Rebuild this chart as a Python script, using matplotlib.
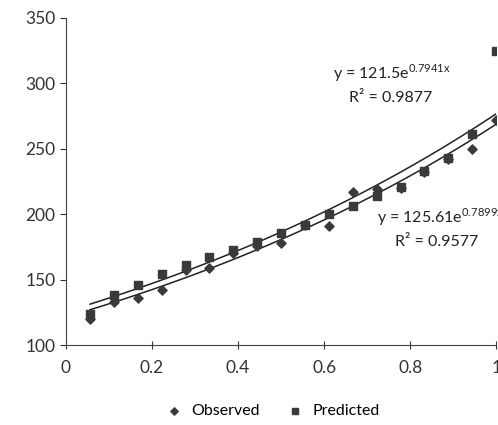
import numpy as np
import matplotlib
matplotlib.use('Agg')
import matplotlib.pyplot as plt

plt.rcParams['font.family'] = ['Lato', 'DejaVu Sans']
plt.rcParams['mathtext.fontset'] = 'custom'
plt.rcParams['mathtext.rm'] = 'Lato'

# x positions: 18 steps from 1/18 to 1
x = [0.056, 0.111, 0.167, 0.222, 0.278, 0.333, 0.389, 0.444, 0.5,
     0.556, 0.611, 0.667, 0.722, 0.778, 0.833, 0.889, 0.944, 1.0]
observed = [120, 133, 136, 142, 157, 159, 170, 176, 178,
            192, 191, 217, 219, 220, 232, 242, 250, 272]
predicted = [124, 138, 146, 154, 161, 167, 173, 179, 186,
             192, 200, 206, 214, 221, 233, 243, 261, 325]

# trendline parameters as printed on the chart
obs_a, obs_b, obs_r2 = 125.61, 0.7899, 0.9577
pred_a, pred_b, pred_r2 = 121.5, 0.7941, 0.9877

fig = plt.figure(figsize=(4.98, 4.25), dpi=100)
ax = fig.add_axes([0.1325, 0.188, 0.864, 0.77])

mk = '#3a3a3a'
ax.scatter(x, observed, marker='D', s=22, color=mk, label='Observed', zorder=3)
ax.scatter(x, predicted, marker='s', s=26, color=mk, label='Predicted', zorder=3)

xs = np.linspace(x[0], x[-1], 100)
ax.plot(xs, obs_a * np.exp(obs_b * xs), color='#222222', lw=1.1, zorder=2)
ax.plot(xs, pred_a * np.exp(pred_b * xs), color='#222222', lw=1.1, zorder=2)

ax.set_xlim(0, 1)
ax.set_ylim(100, 350)
ax.set_xticks([0, 0.2, 0.4, 0.6, 0.8, 1])
ax.set_xticklabels(['0', '0.2', '0.4', '0.6', '0.8', '1'])
ax.set_yticks([100, 150, 200, 250, 300, 350])
for s in ['top', 'right']:
    ax.spines[s].set_visible(False)
for s in ['left', 'bottom']:
    ax.spines[s].set_color('#444444')
ax.tick_params(axis='y', direction='out', length=4, labelsize=12.5, colors='#333333')
ax.tick_params(axis='x', direction='inout', length=6, labelsize=12.5, colors='#333333', pad=8)

txt = dict(fontsize=11.5, ha='center', va='center', color='#222222')
ax.text(0.757, 308, r'y = %.1fe$^{\mathregular{%.4fx}}$' % (pred_a, pred_b), **txt)
ax.text(0.755, 289, 'R² = %.4f' % pred_r2, **txt)
ax.text(0.87, 198, r'y = %.2fe$^{\mathregular{%.4fx}}$' % (obs_a, obs_b), clip_on=False, **txt)
ax.text(0.862, 179, 'R² = %.4f' % obs_r2, **txt)

fig.legend(loc='center', bbox_to_anchor=(0.54, 0.033), ncol=2, frameon=False,
           fontsize=11.5, handletextpad=0.1, columnspacing=1.2, markerscale=0.8)

fig.savefig('out.png', dpi=100)
